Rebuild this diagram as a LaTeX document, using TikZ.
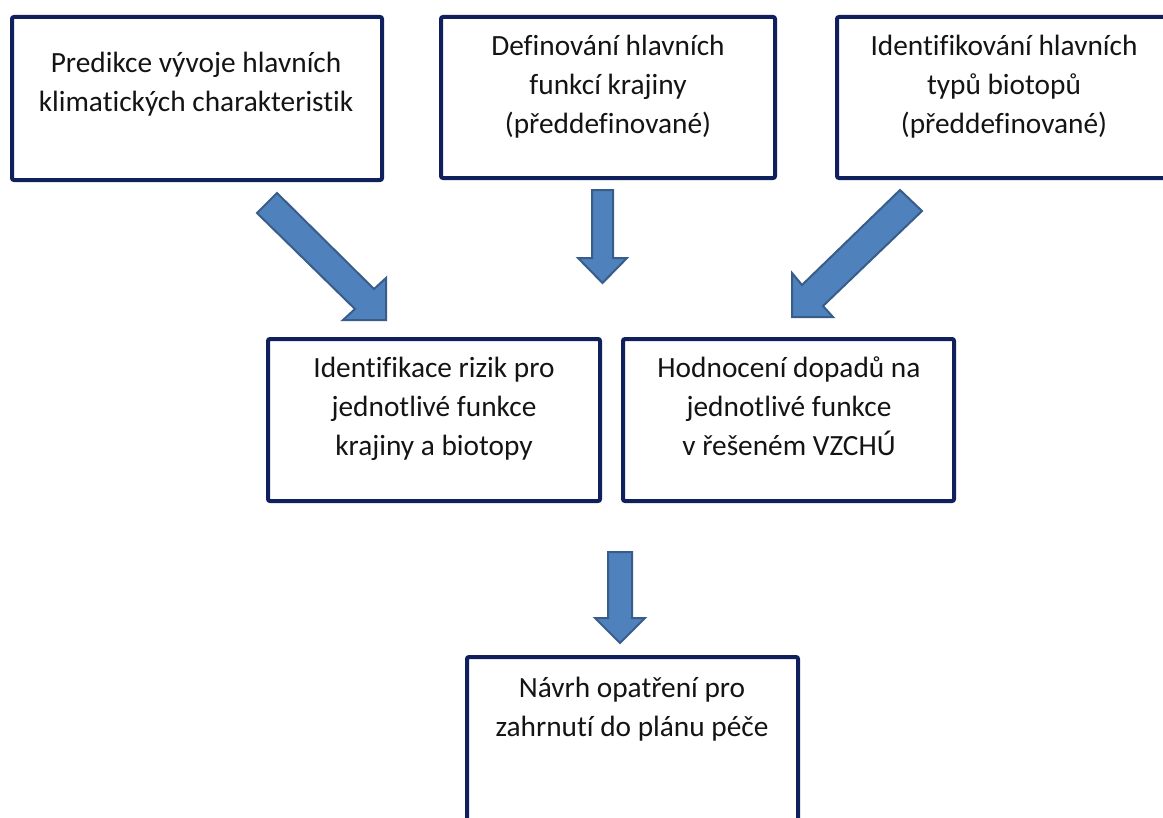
\documentclass[tikz,border=0pt]{standalone}
\usepackage{fontspec}
\setmainfont[Ligatures={NoCommon}]{Carlito}
\usetikzlibrary{fit}
\definecolor{boxline}{RGB}{16,32,92}
\definecolor{arrfill}{RGB}{79,129,189}
\definecolor{arredge}{RGB}{56,93,138}
\definecolor{txt}{RGB}{20,20,20}
\begin{document}
\begin{tikzpicture}[x=0.75pt,y=-0.75pt,
  box/.style={draw=boxline, line width=3pt, rounded corners=1.5pt, inner sep=0pt, outer sep=0pt},
  lbl/.style={align=center, font=\fontsize{22}{29.25}\selectfont, inner sep=0pt, anchor=north, text=txt},
  barrow/.style={fill=arrfill, draw=arredge, line width=1.5pt, line join=miter}]
\useasboundingbox (0,0) rectangle (1163,817);
\clip (0,0) rectangle (1163,817);
\fill[white] (0,0) rectangle (1163,817);
% boxes
\coordinate (b1a) at (12,17);  \coordinate (b1b) at (382,180);
\coordinate (b2a) at (441,17); \coordinate (b2b) at (775,178);
\coordinate (b3a) at (837,17); \coordinate (b3b) at (1171,178);
\coordinate (b4a) at (268,339); \coordinate (b4b) at (600,501);
\coordinate (b5a) at (623,339); \coordinate (b5b) at (954,501);
\coordinate (b6a) at (467,657); \coordinate (b6b) at (798,840);
\node[box, fit=(b1a)(b1b)] (b1) {};
\node[box, fit=(b2a)(b2b)] (b2) {};
\node[box, fit=(b3a)(b3b)] (b3) {};
\node[box, fit=(b4a)(b4b)] (b4) {};
\node[box, fit=(b5a)(b5b)] (b5) {};
\node[box, fit=(b6a)(b6b)] (b6) {};
% texts
\node[lbl] (t1) at (196,45) {\strut Predikce vývoje hlavních\\klimatických charakteristik\strut};
\node[lbl] (t2) at (608,28) {\strut Definování hlavních\\funkcí krajiny\\(předdefinované)\strut};
\node[lbl] (t3) at (1004,28) {\strut Identifikování hlavních\\typů biotopů\\(předdefinované)\strut};
\node[lbl] (t4) at (434,350) {\strut Identifikace rizik pro\\jednotlivé funkce\\krajiny a biotopy\strut};
\node[lbl] (t5) at (789,350) {\strut Hodnocení dopadů na\\jednotlivé funkce\\v řešeném VZCHÚ\strut};
\node[lbl] (t6) at (632,670) {\strut Návrh opatření pro\\zahrnutí do plánu péče\strut};
% block arrows
\draw[barrow] (257,213) -- (277,193) -- (374,289) -- (386,278) -- (386,320) -- (343,320) -- (355,309) -- cycle;
\draw[barrow] (592,190) -- (613,190) -- (613,258) -- (627,258) -- (602.5,283) -- (578,258) -- (592,258) -- cycle;
\draw[barrow] (900,190) -- (922,211) -- (823,306) -- (833,317) -- (792,317) -- (792,273) -- (802,285) -- cycle;
\draw[barrow] (608,552) -- (632,552) -- (632,618) -- (645,618) -- (620,643) -- (595,618) -- (608,618) -- cycle;
\end{tikzpicture}
\end{document}
